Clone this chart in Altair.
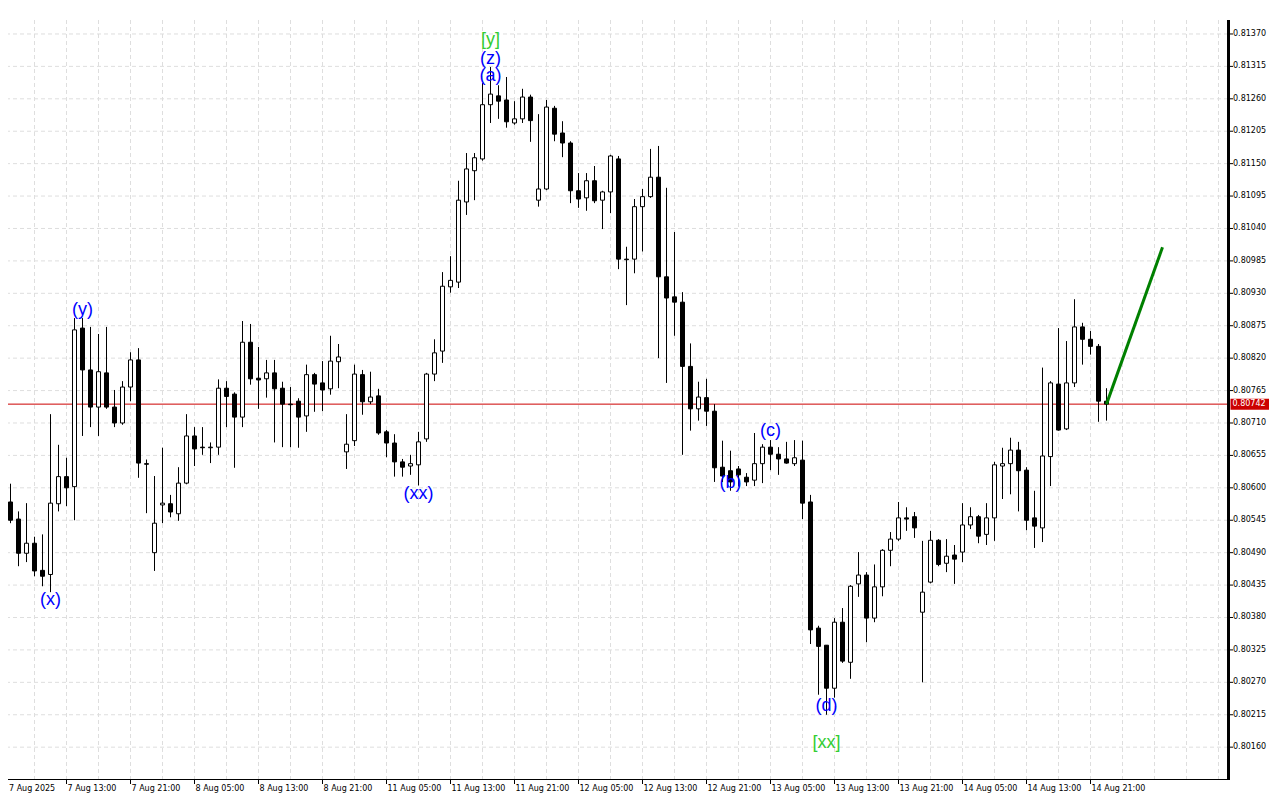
import altair as alt
import pandas as pd

# ---- OHLC data (hourly candles, prices in points: 1 point = 0.00001) ----
open_pts = [
    80567, 80576, 80547, 80489, 80506, 80460, 80453, 80573, 80619, 80602,
    80871, 80800, 80737, 80795, 80737, 80710, 80771, 80817, 80641, 80490,
    80571, 80573, 80556, 80608, 80688, 80669, 80668, 80669, 80769, 80759,
    80720, 80847, 80786, 80785, 80795, 80769, 80742, 80747, 80722, 80792,
    80778, 80768, 80814, 80661, 80680, 80792, 80746, 80756, 80695, 80676,
    80644, 80637, 80639, 80683, 80793, 80832, 80941, 80949, 81085, 81138,
    81158, 81250, 81265, 81258, 81219, 81226, 81263, 81088, 81107, 81244,
    81202, 81185, 81104, 81092, 81121, 81088, 81102, 81158, 80988, 80988,
    81077, 81094, 81127, 80958, 80924, 80915, 80806, 80734, 80753, 80730,
    80635, 80629, 80632, 80618, 80613, 80641, 80669, 80657, 80649, 80641,
    80647, 80576, 80362, 80333, 80260, 80372, 80304, 80437, 80452, 80379,
    80432, 80494, 80513, 80549, 80551, 80389, 80440, 80511, 80472, 80486,
    80491, 80537, 80551, 80521, 80549, 80637, 80641, 80664, 80630, 80549,
    80532, 80653, 80776, 80700, 80778, 80873, 80852, 80840, 80747,
]
close_pts = [
    80576, 80545, 80489, 80506, 80459, 80450, 80574, 80619, 80600, 80868,
    80800, 80737, 80797, 80737, 80710, 80771, 80817, 80642, 80640, 80540,
    80574, 80559, 80608, 80688, 80666, 80668, 80669, 80769, 80755, 80720,
    80847, 80785, 80783, 80795, 80768, 80742, 80741, 80720, 80792, 80776,
    80766, 80815, 80822, 80674, 80793, 80746, 80754, 80693, 80676, 80644,
    80635, 80641, 80678, 80793, 80829, 80942, 80952, 81088, 81141, 81160,
    81250, 81268, 81256, 81221, 81226, 81263, 81223, 81107, 81246, 81200,
    81185, 81104, 81090, 81121, 81087, 81102, 81163, 80988, 80987, 81077,
    81094, 81127, 80958, 80922, 80915, 80806, 80734, 80754, 80730, 80634,
    80620, 80610, 80622, 80610, 80641, 80669, 80657, 80649, 80642, 80651,
    80574, 80359, 80331, 80260, 80372, 80306, 80433, 80452, 80379, 80432,
    80494, 80513, 80549, 80547, 80532, 80423, 80511, 80470, 80484, 80479,
    80537, 80551, 80518, 80549, 80639, 80641, 80664, 80629, 80545, 80535,
    80654, 80778, 80698, 80778, 80873, 80852, 80840, 80747, 80742,
]
high_pts = [
    80605, 80607, 80560, 80574, 80517, 80521, 80725, 80673, 80651, 80888,
    80888, 80873, 80861, 80873, 80766, 80781, 80830, 80837, 80648, 80620,
    80668, 80588, 80635, 80725, 80703, 80703, 80677, 80784, 80781, 80762,
    80883, 80878, 80839, 80817, 80817, 80780, 80771, 80752, 80809, 80795,
    80815, 80858, 80844, 80725, 80809, 80800, 80797, 80768, 80698, 80691,
    80649, 80656, 80695, 80795, 80852, 80966, 80993, 81121, 81168, 81168,
    81287, 81314, 81283, 81297, 81256, 81277, 81267, 81234, 81258, 81248,
    81222, 81188, 81134, 81134, 81146, 81104, 81165, 81163, 81009, 81090,
    81107, 81175, 81180, 81109, 81034, 80932, 80845, 80780, 80785, 80742,
    80680, 80663, 80637, 80625, 80693, 80674, 80681, 80669, 80678, 80681,
    80680, 80588, 80366, 80333, 80379, 80396, 80435, 80491, 80457, 80470,
    80496, 80525, 80576, 80567, 80559, 80510, 80527, 80513, 80513, 80503,
    80574, 80567, 80554, 80574, 80644, 80668, 80685, 80678, 80635, 80595,
    80804, 80781, 80871, 80849, 80920, 80880, 80866, 80844, 80769,
]
low_pts = [
    80554, 80540, 80467, 80474, 80450, 80433, 80423, 80560, 80569, 80545,
    80688, 80703, 80688, 80734, 80703, 80707, 80747, 80617, 80557, 80459,
    80540, 80550, 80544, 80606, 80637, 80656, 80642, 80656, 80703, 80634,
    80703, 80775, 80734, 80753, 80677, 80669, 80669, 80668, 80695, 80729,
    80730, 80758, 80769, 80632, 80671, 80724, 80742, 80690, 80652, 80619,
    80619, 80622, 80604, 80678, 80781, 80812, 80931, 80939, 81063, 81088,
    81155, 81219, 81226, 81211, 81216, 81219, 81187, 81077, 81105, 81188,
    81161, 81083, 81075, 81070, 81083, 81039, 81066, 80971, 80910, 80964,
    81001, 81092, 80820, 80778, 80858, 80656, 80697, 80714, 80705, 80610,
    80610, 80595, 80602, 80603, 80603, 80608, 80630, 80622, 80641, 80637,
    80547, 80335, 80249, 80215, 80244, 80303, 80276, 80415, 80338, 80372,
    80416, 80467, 80510, 80527, 80515, 80270, 80438, 80467, 80457, 80437,
    80474, 80530, 80506, 80503, 80510, 80581, 80589, 80560, 80528, 80498,
    80508, 80603, 80697, 80698, 80771, 80809, 80826, 80712, 80714,
]
POINT = 0.00001

# ---- axis tick values / labels ----
x_tick_index = [0, 8, 16, 24, 32, 40, 48, 56, 64, 72, 80, 88, 96, 104, 112, 120, 128, 136]
x_tick_labels = [
    "7 Aug 2025", "7 Aug 13:00", "7 Aug 21:00", "8 Aug 05:00", "8 Aug 13:00",
    "8 Aug 21:00", "11 Aug 05:00", "11 Aug 13:00", "11 Aug 21:00", "12 Aug 05:00",
    "12 Aug 13:00", "12 Aug 21:00", "13 Aug 05:00", "13 Aug 13:00", "13 Aug 21:00",
    "14 Aug 05:00", "14 Aug 13:00", "14 Aug 21:00",
]
x_grid_values = list(range(4, 153, 4))
y_tick_values = [
    0.80160, 0.80215, 0.80270, 0.80325, 0.80380, 0.80435, 0.80490, 0.80545,
    0.80600, 0.80655, 0.80710, 0.80765, 0.80820, 0.80875, 0.80930, 0.80985,
    0.81040, 0.81095, 0.81150, 0.81205, 0.81260, 0.81315, 0.81370,
]

# ---- annotations ----
current_price = 0.80742
forecast_index = [138, 145]
forecast_price = [0.80742, 0.81008]

wave_text = ["(x)", "(y)", "(xx)", "[y]", "(z)", "(a)", "(b)", "(c)", "(d)", "[xx]"]
wave_index = [6, 10, 52, 61, 61, 61, 91, 96, 103, 103]
wave_price = [0.80410, 0.80901, 0.80590, 0.81360, 0.81328, 0.81298,
              0.80609, 0.80696, 0.80230, 0.80167]
wave_color = ["#0000FF", "#0000FF", "#0000FF", "#32CD32", "#0000FF", "#0000FF",
              "#0000FF", "#0000FF", "#0000FF", "#32CD32"]

# ---- frame ----
W, H = 1220, 759
X_DOMAIN = [0.6875, 153.1875]
Y_DOMAIN = [0.801060, 0.813937]
AXIS_FONT = "DejaVu Sans"
LABEL_FONT = "Liberation Sans"
GRID_COLOR = "#DEDEDE"
GRID_DASH = [4, 3]
RED = "#CC0000"

n = len(open_pts)
df = pd.DataFrame({
    "i": list(range(n)),
    "open": [v * POINT for v in open_pts],
    "close": [v * POINT for v in close_pts],
    "high": [v * POINT for v in high_pts],
    "low": [v * POINT for v in low_pts],
})
df["up"] = df["close"] >= df["open"]
df["xl"] = df["i"] - 0.25
df["xr"] = df["i"] + 0.25

xs = alt.Scale(domain=X_DOMAIN, nice=False, zero=False)
ys = alt.Scale(domain=Y_DOMAIN, nice=False, zero=False)


def X(field):
    return alt.X(field, scale=xs, axis=None)


def Y(field):
    return alt.Y(field, scale=ys, axis=None)


# ---- grid ----
vgrid_df = pd.DataFrame({"i": x_grid_values})
hgrid_df = pd.DataFrame({"price": y_tick_values,
                         "label": [f"{v:.5f}" for v in y_tick_values]})
vgrid = alt.Chart(vgrid_df).mark_rule(
    color=GRID_COLOR, strokeWidth=1, strokeDash=GRID_DASH
).encode(x=X("i:Q"))
hgrid = alt.Chart(hgrid_df).mark_rule(
    color=GRID_COLOR, strokeWidth=1, strokeDash=GRID_DASH
).encode(y=Y("price:Q"))

# ---- candles ----
base = alt.Chart(df)
wicks = base.mark_rule(color="black", strokeWidth=1).encode(
    x=X("i:Q"), y=Y("low:Q"), y2="high:Q",
)
bodies = base.mark_rect(stroke="black", strokeWidth=1).encode(
    x=X("xl:Q"), x2="xr:Q",
    y=Y("open:Q"), y2="close:Q",
    fill=alt.condition("datum.up", alt.value("white"), alt.value("black")),
)

# ---- price axis (right) ----
frame_df = pd.DataFrame({"k": [0]})
right_domain = alt.Chart(frame_df).mark_rule(color="black", strokeWidth=3).encode(
    x=alt.value(W + 0.5), y=alt.value(0), y2=alt.value(H + 1),
)
bottom_domain = alt.Chart(frame_df).mark_rule(color="black", strokeWidth=1).encode(
    x=alt.value(0), x2=alt.value(W), y=alt.value(H + 0.5),
)
price_ticks = alt.Chart(hgrid_df).mark_rule(color="black", strokeWidth=1).encode(
    x=alt.value(W + 2), x2=alt.value(W + 5), y=Y("price:Q"),
)
price_labels = alt.Chart(hgrid_df).mark_text(
    align="left", baseline="middle", font=AXIS_FONT, fontSize=8, color="black"
).encode(
    x=alt.value(W + 5), y=Y("price:Q"), text="label:N",
)

# ---- time axis (bottom) ----
tick_df = pd.DataFrame({"i": x_tick_index, "label": x_tick_labels})
time_ticks = alt.Chart(tick_df).mark_rule(color="black", strokeWidth=1).encode(
    x=X("i:Q"), y=alt.value(H), y2=alt.value(H + 5),
)
time_labels = alt.Chart(tick_df).transform_calculate(
    xi=f"max(datum.i, {X_DOMAIN[0]})"
).mark_text(
    align="left", baseline="top", font=AXIS_FONT, fontSize=8, color="black", dx=1
).encode(
    x=X("xi:Q"), y=alt.value(H + 6), text="label:N",
)

# ---- current price ----
cur_df = pd.DataFrame({"price": [current_price], "label": [f"{current_price:.5f}"]})
cur_line = alt.Chart(cur_df).mark_rule(color=RED, strokeWidth=1).encode(y=Y("price:Q"))
cur_tag = alt.Chart(cur_df).mark_rule(color=RED, strokeWidth=11).encode(
    x=alt.value(W + 2.5), x2=alt.value(W + 41), y=Y("price:Q"),
)
cur_text = alt.Chart(cur_df).mark_text(
    align="left", baseline="middle", font=AXIS_FONT, fontSize=8, color="white"
).encode(x=alt.value(W + 4.5), y=Y("price:Q"), text="label:N")

# ---- forecast line ----
fc_df = pd.DataFrame({"i": forecast_index, "price": forecast_price})
forecast = alt.Chart(fc_df).mark_line(color="#008000", strokeWidth=3).encode(
    x=X("i:Q"), y=Y("price:Q"),
)

# ---- wave labels ----
wave_df = pd.DataFrame({"i": wave_index, "price": wave_price,
                        "text": wave_text, "color": wave_color})
waves = alt.Chart(wave_df).mark_text(
    align="center", baseline="middle", font=LABEL_FONT, fontSize=18
).encode(
    x=X("i:Q"), y=Y("price:Q"), text="text:N",
    color=alt.Color("color:N", scale=None),
)

chart = alt.layer(
    vgrid, hgrid, cur_line, wicks, bodies, forecast, waves,
    bottom_domain, time_ticks, time_labels,
    right_domain, price_ticks, price_labels, cur_tag, cur_text,
).properties(
    width=W, height=H,
    autosize=alt.AutoSizeParams(type="none"),
    padding={"left": 0, "top": 12, "right": 44, "bottom": 18},
    background="white",
).configure_view(stroke=None)

chart.save("out.html", embed_options={"renderer": "svg", "actions": False})
